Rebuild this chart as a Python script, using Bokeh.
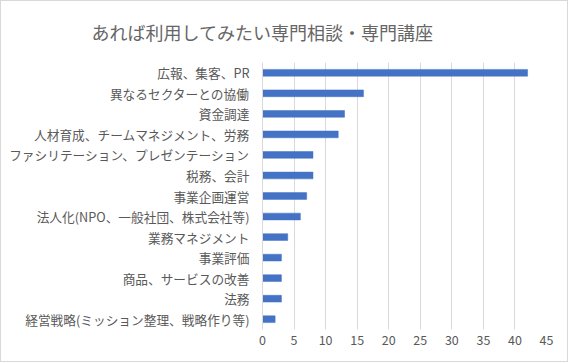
from bokeh.plotting import figure
from bokeh.models import ColumnDataSource, FactorRange, Range1d, Title, SingleIntervalTicker
from bokeh.embed import file_html
from bokeh.resources import INLINE

title_text = "あれば利用してみたい専門相談・専門講座"
categories = [
    "広報、集客、PR",
    "異なるセクターとの協働",
    "資金調達",
    "人材育成、チームマネジメント、労務",
    "ファシリテーション、プレゼンテーション",
    "税務、会計",
    "事業企画運営",
    "法人化(NPO、一般社団、株式会社等)",
    "業務マネジメント",
    "事業評価",
    "商品、サービスの改善",
    "法務",
    "経営戦略(ミッション整理、戦略作り等)",
]
counts = [42, 16, 13, 12, 8, 8, 7, 6, 4, 3, 3, 3, 2]

FONT = "Noto Sans CJK JP"
GRAY = "#595959"

source = ColumnDataSource(data=dict(cat=categories, val=counts))

p = figure(
    y_range=FactorRange(*reversed(categories), range_padding=0),
    x_range=Range1d(0, 45),
    frame_width=284, frame_height=267,
    min_border_left=261, min_border_right=21,
    min_border_top=61, min_border_bottom=32,
    output_backend="svg", toolbar_location=None,
)
p.styles = {"border": "1px solid #d9d9d9"}

p.hbar(y="cat", right="val", left=0, height=0.33, source=source,
       fill_color="#4472C4", line_color="#4472C4", line_width=0.5)

p.outline_line_color = None
p.background_fill_color = "white"
p.border_fill_color = "white"

p.xaxis.ticker = SingleIntervalTicker(interval=5)
p.xaxis.axis_line_color = None
p.xaxis.major_tick_line_color = None
p.xaxis.minor_tick_line_color = None
p.xaxis.major_tick_out = 0
p.xaxis.major_label_standoff = 1
p.xaxis.major_label_text_font = FONT
p.xaxis.major_label_text_font_size = "12.5px"
p.xaxis.major_label_text_color = GRAY

p.yaxis.axis_line_color = "#d9d9d9"
p.yaxis.axis_line_width = 1
p.yaxis.major_tick_line_color = None
p.yaxis.minor_tick_line_color = None
p.yaxis.major_tick_out = 0
p.yaxis.major_label_standoff = 13
p.yaxis.major_label_text_font = FONT
p.yaxis.major_label_text_font_size = "12.7px"
p.yaxis.major_label_text_color = GRAY

p.xgrid.grid_line_color = "#d9d9d9"
p.xgrid.grid_line_width = 1
p.ygrid.grid_line_color = None

title = Title(text=title_text, align="left", offset=-171, standoff=32,
              vertical_align="top",
              text_font=FONT, text_font_size="18px", text_color="#666666",
              text_font_style="normal")
p.add_layout(title, "above")

open("out.html", "w").write(file_html(p, INLINE))
